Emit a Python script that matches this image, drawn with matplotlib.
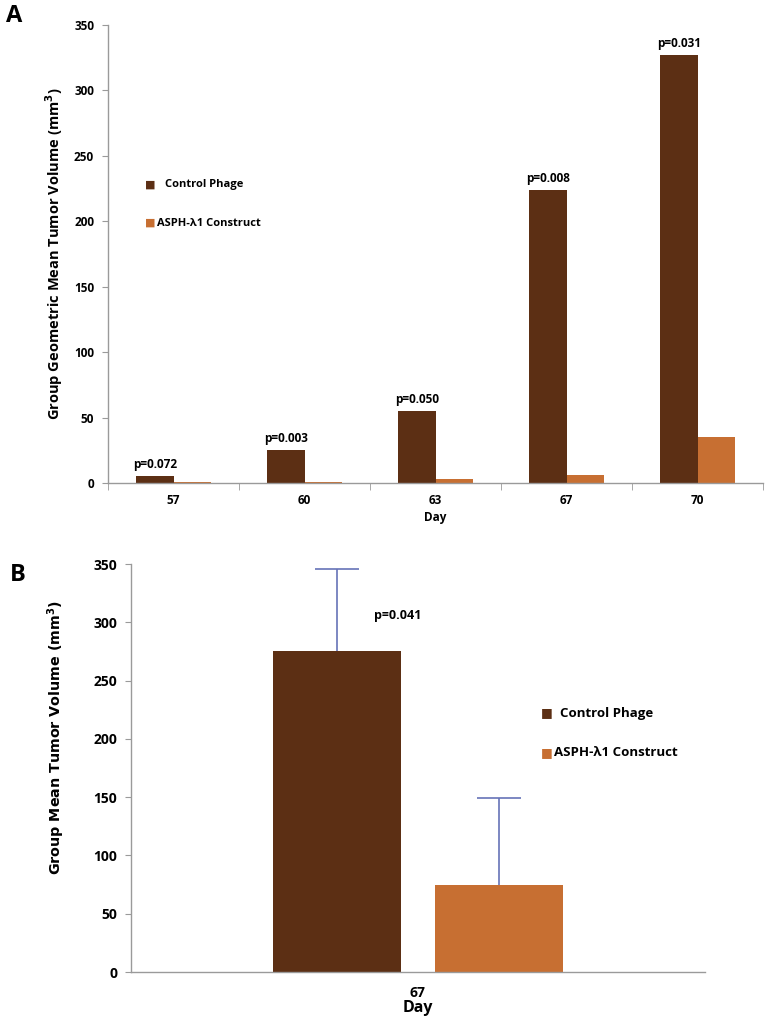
import matplotlib
matplotlib.use("Agg")
import matplotlib.pyplot as plt
import numpy as np

# ---- Data ----
days = ["57", "60", "63", "67", "70"]
control_geo = [5, 25, 55, 224, 327]
construct_geo = [1, 1, 3, 6, 35]
p_values_a = ["p=0.072", "p=0.003", "p=0.050", "p=0.008", "p=0.031"]

day_b = ["67"]
control_mean = [275]
construct_mean = [75]
control_err = [71]
construct_err = [74]
p_value_b = "p=0.041"

series_names = ["Control Phage", "ASPH-\u03bb1 Construct"]

c_ctrl = "#5C2F14"
c_cons = "#C76F32"
axis_col = "#9a9a9a"
err_col = "#6673B8"

font = "Open Sans"
plt.rcParams['font.family'] = [font, 'DejaVu Sans']

fig = plt.figure(figsize=(7.67, 10.19), dpi=100)

# ---------------- Panel A ----------------
axA = fig.add_axes([108/767, 1-483/1019, 655/767, 458/1019])
x = np.arange(len(days))
w = 0.2857
axA.bar(x - w/2, control_geo, width=w, color=c_ctrl, align="center")
axA.bar(x + w/2, construct_geo, width=w, color=c_cons, align="center")
for xi, v, p in zip(x, control_geo, p_values_a):
    axA.text(xi - w/2, v + 4, p, ha="center", va="bottom", fontsize=8.5, fontweight="bold")
axA.set_xlim(-0.5, len(days) - 0.5)
axA.set_ylim(0, 350)
axA.set_yticks(np.arange(0, 351, 50))
axA.set_xticks(x)
axA.set_xticklabels(days, fontsize=8.5, fontweight="bold")
axA.set_xticks(np.arange(-0.5, len(days) + 0.5, 1), minor=True)
axA.tick_params(axis="x", which="major", length=0, pad=8)
axA.tick_params(axis="x", which="minor", length=5, color=axis_col, direction="out")
axA.tick_params(axis="y", length=4, color=axis_col, labelsize=8.5, pad=6)
for lab in axA.get_yticklabels():
    lab.set_fontweight("bold")
for s in ["top", "right"]:
    axA.spines[s].set_visible(False)
for s in ["left", "bottom"]:
    axA.spines[s].set_color(axis_col)
    axA.spines[s].set_linewidth(1.0)
axA.set_xlabel("Day", fontsize=8.5, fontweight="bold", labelpad=3)
axA.set_ylabel("Group Geometric Mean Tumor Volume (mm$^\\mathbf{3}$)", fontsize=10.5,
               fontweight="bold")
axA.yaxis.set_label_coords(-0.0656, 0.5)
# legend A
fig.text(150/767, 1-185/1019, "\u25a0", color=c_ctrl, fontsize=8, ha="center", va="center")
fig.text(165/767, 1-185/1019, series_names[0], fontsize=8, fontweight="bold", va="center")
fig.text(150/767, 1-223/1019, "\u25a0", color=c_cons, fontsize=8, ha="center", va="center")
fig.text(157/767, 1-223/1019, series_names[1], fontsize=8, fontweight="bold", va="center")
fig.text(14/767, 1-16/1019, "A", fontsize=17, fontweight="bold", va="center", ha="center")

# ---------------- Panel B ----------------
axB = fig.add_axes([131/767, 1-972/1019, 574/767, 408/1019])
xb = np.arange(len(day_b))
off = 0.141
wb = 0.223
axB.bar(xb - off, control_mean, width=wb, color=c_ctrl)
axB.bar(xb + off, construct_mean, width=wb, color=c_cons)
for xc, m, e in [(xb - off, control_mean, control_err), (xb + off, construct_mean, construct_err)]:
    cont = axB.errorbar(xc, m, yerr=[[0] * len(e), e], fmt="none", ecolor=err_col,
                        elinewidth=1.2, capsize=16, capthick=1.2)
    caps = cont[1]
    if len(caps) == 2:
        caps[0].set_visible(False)
axB.text(xb[0] - 0.036, 306, p_value_b, ha="center", va="center", fontsize=9, fontweight="bold")
axB.set_xlim(-0.5, 0.5)
axB.set_ylim(0, 350)
axB.set_yticks(np.arange(0, 351, 50))
axB.set_xticks(xb)
axB.set_xticklabels(day_b, fontsize=10, fontweight="bold")
axB.tick_params(axis="x", length=0, pad=10)
axB.tick_params(axis="y", length=4, color=axis_col, labelsize=10, pad=6)
for lab in axB.get_yticklabels():
    lab.set_fontweight("bold")
for s in ["top", "right"]:
    axB.spines[s].set_visible(False)
for s in ["left", "bottom"]:
    axB.spines[s].set_color(axis_col)
    axB.spines[s].set_linewidth(1.0)
axB.set_xlabel("Day", fontsize=11.5, fontweight="bold", labelpad=0)
axB.set_ylabel("Group Mean Tumor Volume (mm$^\\mathbf{3}$)", fontsize=10.3,
               fontweight="bold", family="DejaVu Sans")
axB.yaxis.set_label_coords(-0.1115, 0.576)
fig.text(547/767, 1-713/1019, "\u25a0", color=c_ctrl, fontsize=9, ha="center", va="center")
fig.text(560/767, 1-713/1019, series_names[0], fontsize=9.5, fontweight="bold", va="center")
fig.text(547/767, 1-753/1019, "\u25a0", color=c_cons, fontsize=9, ha="center", va="center")
fig.text(554/767, 1-753/1019, series_names[1], fontsize=9.5, fontweight="bold", va="center")
fig.text(18/767, 1-575/1019, "B", fontsize=17, fontweight="bold", va="center", ha="center")

fig.savefig("out.png", dpi=100)
